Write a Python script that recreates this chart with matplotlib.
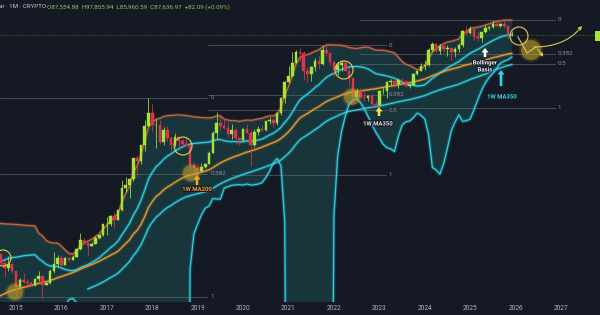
import numpy as np
import matplotlib
matplotlib.use("Agg")
import matplotlib.pyplot as plt
from matplotlib.patches import Circle, FancyArrow, Rectangle
import matplotlib.patheffects as pe

plt.rcParams["font.family"] = ["Roboto", "DejaVu Sans"]

# ---------------- data ----------------
# monthly closes Jan 2010 .. Jul 2014 (indicator warm-up only, off-screen)
hist_close = [0.001, 0.001, 0.003, 0.003, 0.004, 0.004, 0.07, 0.06, 0.06, 0.19, 0.21, 0.30,
              0.52, 0.86, 0.78, 3.50, 8.74, 16.10, 13.35, 8.19, 5.14, 3.25, 2.97, 4.72,
              5.48, 4.86, 4.86, 4.95, 5.17, 6.69, 9.35, 10.16, 12.40, 11.20, 12.57, 13.45,
              20.41, 33.38, 93.03, 139.23, 128.82, 97.51, 106.21, 141.00, 141.89, 211.17, 1129.43, 757.22,
              803, 573, 457, 447, 627, 640, 586]
hist_start = 2010.0

# monthly candles Aug 2014 .. Dec 2025
candle_start = 2014 + 7 / 12
opens = [586, 478, 387, 338, 378,
         320, 217, 254, 244, 236, 230, 263, 284, 230, 236, 314, 378,
         430, 369, 437, 416, 448, 531, 673, 624, 573, 608, 700, 745,
         964, 970, 1190, 1080, 1350, 2300, 2480, 2875, 4700, 4340, 6470, 10000,
         13800, 10200, 10300, 6900, 9250, 7500, 6400, 7730, 7000, 6620, 6300, 4000,
         3700, 3440, 3830, 4100, 5300, 8570, 10800, 10090, 9600, 8300, 9200, 7550,
         7200, 9350, 8550, 6420, 8630, 9450, 9140, 11350, 11650, 10780, 13800, 19700,
         28950, 33100, 45200, 58800, 57700, 37300, 35000, 41500, 47100, 43800, 61300, 57000,
         46200, 38500, 43200, 45500, 37700, 31800, 19900, 23300, 20000, 19400, 20500, 17150,
         16550, 23100, 23150, 28450, 29250, 27200, 30450, 29200, 25950, 26950, 34650, 37700,
         42250, 42600, 61150, 71300, 60650, 67500, 62700, 64600, 58950, 63300, 70200, 96400,
         93400, 102400, 84350, 82500, 94200, 104600, 107100, 115700, 108200, 114000, 109500, 87554.88]
highs = [600, 487, 415, 457, 384,
         320, 266, 300, 262, 248, 268, 317, 285, 245, 332, 502, 467,
         462, 448, 440, 467, 550, 780, 705, 625, 630, 740, 756, 980,
         1150, 1200, 1300, 1350, 2760, 3000, 2930, 4700, 5000, 6470, 11500, 19700,
         17200, 11800, 11700, 9800, 9990, 7780, 8500, 7760, 7400, 7680, 6560, 4300,
         4100, 4200, 4150, 5600, 9000, 13900, 13200, 12300, 10950, 10500, 9500, 7750,
         9580, 10500, 9200, 9470, 10080, 10400, 11450, 12480, 12100, 14100, 19900, 29300,
         41950, 58350, 61800, 64900, 59500, 41300, 42400, 50500, 52900, 67000, 69000, 59100,
         47900, 45800, 48200, 47400, 40000, 31900, 24700, 25200, 22800, 21000, 21500, 18400,
         23950, 25250, 29200, 31000, 29850, 31450, 31800, 30200, 27500, 35250, 38450, 44700,
         48950, 64000, 73800, 72800, 71950, 72000, 70000, 65000, 66500, 73600, 99600, 108300,
         109600, 102700, 95000, 95750, 111900, 110500, 123200, 124500, 117900, 126200, 111000, 97855.94]
lows = [440, 365, 275, 316, 300,
        172, 212, 236, 214, 224, 221, 253, 165, 225, 235, 305, 350,
        354, 365, 400, 415, 440, 520, 600, 470, 570, 602, 680, 740,
        750, 920, 890, 1070, 1340, 2100, 1830, 2700, 2970, 4110, 5500, 10000,
        9000, 5900, 6500, 6400, 7000, 5750, 6100, 5880, 6100, 6200, 3560, 3150,
        3350, 3380, 3680, 4060, 5300, 7450, 9050, 9350, 7700, 7300, 6500, 6430,
        6850, 8450, 3850, 6150, 8100, 8900, 8950, 10500, 9850, 10400, 13200, 17600,
        28100, 32300, 45000, 47000, 30000, 28800, 29300, 37300, 39600, 43300, 53250, 42000,
        32900, 34300, 37200, 37600, 26700, 17600, 18800, 19600, 18150, 18200, 15500, 16300,
        16500, 21400, 19550, 26950, 25800, 24800, 28850, 25300, 24900, 26550, 34100, 37600,
        38500, 41850, 59000, 59100, 56550, 58400, 53500, 49000, 52550, 58900, 66800, 90500,
        89200, 78200, 76600, 74400, 93400, 98200, 105300, 107300, 107300, 103500, 80600, 85960.59]
closes = [478, 387, 338, 378, 320,
          217, 254, 244, 236, 230, 263, 284, 230, 236, 314, 378, 430,
          369, 437, 416, 448, 531, 673, 624, 573, 608, 700, 745, 964,
          970, 1190, 1080, 1350, 2300, 2480, 2875, 4700, 4340, 6470, 10000, 13800,
          10200, 10300, 6900, 9250, 7500, 6400, 7730, 7000, 6620, 6300, 4000, 3700,
          3440, 3830, 4100, 5300, 8570, 10800, 10090, 9600, 8300, 9200, 7550, 7200,
          9350, 8550, 6420, 8630, 9450, 9140, 11350, 11650, 10780, 13800, 19700, 28950,
          33100, 45200, 58800, 57700, 37300, 35000, 41500, 47100, 43800, 61300, 57000, 46200,
          38500, 43200, 45500, 37700, 31800, 19900, 23300, 20000, 19400, 20500, 17150, 16550,
          23100, 23150, 28450, 29250, 27200, 30450, 29200, 25950, 26950, 34650, 37700, 42250,
          42600, 61150, 71300, 60650, 67500, 62700, 64600, 58950, 63300, 70200, 96400, 93400,
          102400, 84350, 82500, 94200, 104600, 107100, 115700, 108200, 114000, 109500, 87554.88, 87636.97]

years = list(range(2015, 2028))
last_price = 87636.97

# Fibonacci retracement anchors (low, high) per cycle
fib_lows = [172, 3150, 15500]
fib_highs = [19700, 69000, 126200]
fib_levels = [[0, 0.382, 1], [0, 0.382, 0.5, 1], [0, 0.382, 0.5, 1]]

# ---------------- style ----------------
BG = "#151924"
TEAL = "#26a69a"
UPPER = "#d0683f"
CYAN = "#2bd3e6"
ORANGE = "#f29a2e"
GREEN = "#a6e537"
RED = "#e2314f"
FIBC = "#5f636e"

W, H = 600, 315
fig = plt.figure(figsize=(6, 3.15), dpi=100, facecolor=BG)
ax = fig.add_axes([0, 13 / H, 1, 302 / H], facecolor=BG)
ax.set_yscale("log")
PXY = 96.6
y_top = 126000 * 10 ** (20 / PXY)
y_bot = 126000 / 10 ** (282 / PXY)
ax.set_ylim(y_bot, y_top)
PXX = 45.42
x0 = 2015 - 16 / PXX
ax.set_xlim(x0, 2015 + 584 / PXX)
for s in ax.spines.values():
    s.set_visible(False)
ax.set_yticks([])
ax.minorticks_off()
ax.set_yticks([], minor=True)
ax.set_xticks(years)
ax.set_xticklabels([str(y) for y in years])
ax.tick_params(axis="x", length=0, pad=2.4, labelsize=4.7, labelcolor="#b2b5be")


def px2yr(p):
    return x0 + p / PXX


# ---------------- indicators ----------------
c_all = np.array(hist_close + closes, dtype=float)
t_all = hist_start + np.arange(len(c_all)) / 12.0


def sma(a, n):
    out = np.full(a.shape, np.nan)
    for i in range(n - 1, len(a)):
        out[i] = a[i - n + 1:i + 1].mean()
    return out


def rstd(a, n):
    out = np.full(a.shape, np.nan)
    for i in range(n - 1, len(a)):
        out[i] = a[i - n + 1:i + 1].std()
    return out


basis = sma(c_all, 20)
sd = rstd(c_all, 20)
upper = basis + 2 * sd
lower = basis - 2 * sd
ma200w = sma(c_all, 46)
ma350w = sma(c_all, 80)

k0 = len(hist_close) - 1
t = t_all[k0:]
up = upper[k0:]
bs = basis[k0:]
lo = np.where(lower[k0:] > 0, lower[k0:], 1e-3)
m200 = ma200w[k0:]
m350 = ma350w[k0:]

ax.fill_between(t, lo, up, color=TEAL, alpha=0.2, lw=0, zorder=1)


def glow(x, y, color, lw=0.9):
    ax.plot(x, y, color=color, lw=lw * 3.5, alpha=0.13, zorder=2, solid_capstyle="round")
    ax.plot(x, y, color=color, lw=lw * 2.0, alpha=0.2, zorder=2, solid_capstyle="round")
    ax.plot(x, y, color=color, lw=lw, alpha=1, zorder=2.1)


glow(t, up, UPPER, 0.8)
glow(t, bs, CYAN, 0.85)
glow(t, lo, CYAN, 0.85)
glow(t, m350, CYAN, 0.85)
glow(t, m200, ORANGE, 0.85)

# ---------------- fib levels ----------------
fib_px = [(0, 207, 211), (208, 386, 389), (360, 555, 558)]
for ci, (lo_a, hi_a, lv) in enumerate(zip(fib_lows, fib_highs, fib_levels)):
    xa, xb, xl = fib_px[ci]
    for L in lv:
        p = np.exp(np.log(hi_a) - L * (np.log(hi_a) - np.log(lo_a)))
        xs = xa
        if ci == 1 and L == 1:
            xs = 232
        if ci == 2 and L == 1:
            xs = 400
        ax.plot([px2yr(xs), px2yr(xb)], [p, p], color=FIBC, lw=0.6, alpha=0.8, zorder=1.5)
        lab = "0" if L == 0 else ("1" if L == 1 else f"{L:g}")
        ax.text(px2yr(xl), p, lab, color="#8a8e98", fontsize=4.5, va="center", ha="left", zorder=4)

# current price line
ax.axhline(last_price, color="#4f7a2c", lw=0.6, ls=(0, (1.2, 1.5)), alpha=0.9, zorder=1.6)

# ---------------- candles ----------------
tc = candle_start + np.arange(len(closes)) / 12.0
o = np.array(opens, float)
h = np.array(highs, float)
l = np.array(lows, float)
c = np.array(closes, float)
cols = np.where(c >= o, GREEN, RED)
ax.vlines(tc, l, h, colors=cols, lw=0.55, zorder=3)
bot = np.minimum(o, c)
hgt = np.abs(c - o)
ax.bar(tc, hgt, bottom=bot, width=0.056, color=cols, edgecolor=cols, lw=0.3, zorder=3.1)

# ---------------- title ----------------
fig.text(-1 / W, 1 - 7 / H, "ar · 1M · CRYPTO", fontsize=4.5, color="#c4c7cf", va="center", ha="left")
fig.text(47 / W, 1 - 7 / H, "O87,554.88  H97,855.94  L85,960.59  C87,636.97  +82.09 (+0.09%)",
         fontsize=4.5, color="#8fc74a", va="center", ha="left")

# ---------------- annotations (pixel overlay) ----------------
ov = fig.add_axes([0, 0, 1, 1], facecolor="none")
ov.set_xlim(0, W)
ov.set_ylim(H, 0)
ov.axis("off")

for (cx, cy, r) in [(15, 292, 8), (191, 173, 8), (352, 97, 8), (531, 50, 10)]:
    ov.add_patch(Circle((cx, cy), r + 2, color="#c9a52c", alpha=0.18, lw=0, zorder=5))
    ov.add_patch(Circle((cx, cy), r, color="#c9a52c", alpha=0.5, lw=0, zorder=5))
for (cx, cy, r) in [(3, 258, 8), (183, 146, 9), (344, 70, 9), (519, 36, 9)]:
    ov.add_patch(Circle((cx, cy), r, fill=False, ec="#e2cf4e", lw=0.8, zorder=6))

stroke = [pe.withStroke(linewidth=1.5, foreground=BG)]


def up_arrow(x, y_tail, y_head, color):
    ov.add_patch(FancyArrow(x, y_tail, 0, y_head - y_tail, width=2.6, head_width=7, head_length=4.5,
                            length_includes_head=True, color=color, lw=0, zorder=7))


up_arrow(197, 185, 175, "#f6a623")
ov.text(197, 189.5, "1W MA200", color="#f0a030", fontsize=4.3, ha="center", va="center",
        fontweight="bold", path_effects=stroke, zorder=7)
up_arrow(379, 116, 107, "#f5e642")
ov.text(378, 124, "1W MA350", color="#e0e0e0", fontsize=4.3, ha="center", va="center",
        fontweight="bold", path_effects=stroke, zorder=7)
up_arrow(485, 57, 48, "#ffffff")
ov.text(485, 63, "Bollinger", color="#f0f0f0", fontsize=4.3, ha="center", va="center",
        fontweight="bold", path_effects=stroke, zorder=7)
ov.text(485, 70, "Basis", color="#f0f0f0", fontsize=4.3, ha="center", va="center",
        fontweight="bold", path_effects=stroke, zorder=7)
up_arrow(501, 86, 70, "#2fd8ea")
ov.text(502, 97, "1W MA350", color="#2fd8ea", fontsize=4.3, ha="center", va="center",
        fontweight="bold", path_effects=stroke, zorder=7)

YEL = "#d8cc45"
zz_x = [518, 527, 536]
zz_y = [37, 53, 47]
ov.plot(zz_x, zz_y, color=YEL, lw=0.8, zorder=7)
ov.annotate("", xy=(545, 59), xytext=(536, 47),
            arrowprops=dict(arrowstyle="-|>", color=YEL, lw=0.8, mutation_scale=5), zorder=7)
s = np.linspace(0, 1, 30)
bx = (1 - s) ** 2 * 534 + 2 * (1 - s) * s * 566 + s ** 2 * 582
by = (1 - s) ** 2 * 47 + 2 * (1 - s) * s * 47 + s ** 2 * 26
ov.plot(bx[:-3], by[:-3], color=YEL, lw=0.8, zorder=7)
ov.annotate("", xy=(bx[-1], by[-1]), xytext=(bx[-4], by[-4]),
            arrowprops=dict(arrowstyle="-|>", color=YEL, lw=0.8, mutation_scale=5), zorder=7)

ov.add_patch(Rectangle((595, 31), 10, 10, color=GREEN, lw=0, zorder=7))

fig.savefig("out.png", dpi=100, facecolor=BG)
